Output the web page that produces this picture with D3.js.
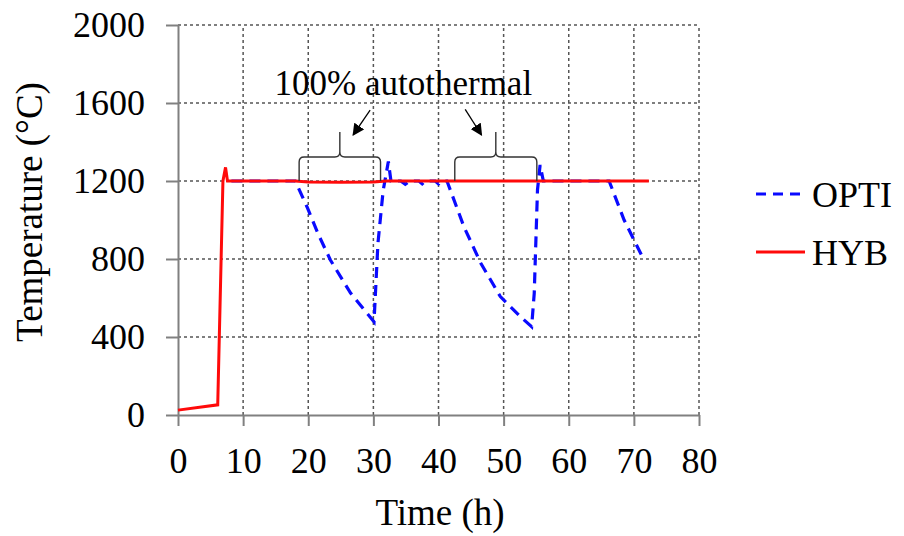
<!DOCTYPE html>
<html><head><meta charset="utf-8">
<script src="https://cdn.jsdelivr.net/npm/d3@7"></script>
<style>body{margin:0;background:#fff}svg{display:block}text{font-family:"Liberation Serif","Times New Roman",serif;fill:#000}</style>
</head><body><svg id="c" width="904" height="536"></svg>
<script>
const xTicks=[0,10,20,30,40,50,60,70,80];
const yTicks=[0,400,800,1200,1600,2000];
const hybT=[0,6.1,6.9,7.3,7.6,10,18,20,25,30,32,40,50,60,72.3];
const hybV=[25,52,1200,1270,1200,1200,1200,1195,1193,1195,1200,1200,1200,1200,1200];
const optiT=[8.2,18,19.8,21.5,23.4,26.5,30.1,30.7,31.5,32.3,32.7,34.2,34.9,35.6,37,37.5,38,39.5,40,40.5,41.3,43.9,46.5,49.5,52.6,54.3,54.7,55.2,55.6,56.1,66.2,68.5,71.5];
const optiV=[1200,1200,1068,930,795,625,478,880,1150,1300,1200,1200,1183,1200,1200,1185,1200,1200,1185,1200,1200,966,778,607,504,453,624,1154,1282,1200,1200,1000,798];
const seriesNames=["OPTI","HYB"];
const annotation="100% autothermal";
const braces=[[18.6,31.1],[42.5,55.1]];
const arrows=[[[29.5,1564],[26.9,1436]],[[44.1,1567],[46.6,1436]]];

const svg=d3.select("#c");
const x=d3.scaleLinear().domain([0,80]).range([178,699]);
const y=d3.scaleLinear().domain([0,2000]).range([415,25]);
const FS=36;

// grid
const g=svg.append("g");
g.selectAll(".vg").data(xTicks.filter(d=>d>0)).join("line")
 .attr("x1",d=>x(d)).attr("x2",d=>x(d)).attr("y1",y(0)).attr("y2",y(2000))
 .attr("stroke","#555").attr("stroke-width",1.5).attr("stroke-dasharray","3,3");
g.selectAll(".hg").data(yTicks.filter(d=>d>0)).join("line")
 .attr("x1",x(0)).attr("x2",x(80)).attr("y1",d=>y(d)).attr("y2",d=>y(d))
 .attr("stroke","#555").attr("stroke-width",1.5).attr("stroke-dasharray","3,3");

// axes
const ax=svg.append("g").attr("transform",`translate(0,${y(0)})`)
 .call(d3.axisBottom(x).tickValues(xTicks).tickFormat(d3.format("d")).tickSize(11).tickPadding(21).tickSizeOuter(0));
const ay=svg.append("g").attr("transform",`translate(${x(0)},0)`)
 .call(d3.axisLeft(y).tickValues(yTicks).tickFormat(d3.format("d")).tickSize(12).tickPadding(21).tickSizeOuter(0));
[ax,ay].forEach(a=>{
 a.attr("font-family","Liberation Serif");
 a.select(".domain").attr("stroke","#808080").attr("stroke-width",2);
 a.selectAll(".tick line").attr("stroke","#808080").attr("stroke-width",2);
 a.selectAll(".tick text").attr("font-size",FS).attr("fill","#000");
});

// titles
svg.append("text").attr("x",440).attr("y",525).attr("text-anchor","middle").attr("font-size",37).text("Time (h)");
svg.append("text").attr("transform","translate(42,212) rotate(-90)").attr("text-anchor","middle").attr("font-size",37).text("Temperature (°C)");

// lines
const lineGen=d3.line().x(d=>x(d[0])).y(d=>y(d[1]));
const optiData=optiT.map((t,i)=>[t,optiV[i]]);
const hybData=hybT.map((t,i)=>[t,hybV[i]]);
svg.append("path").datum(optiData).attr("d",lineGen).attr("fill","none")
 .attr("stroke","#0a0aff").attr("stroke-width",3.2).attr("stroke-dasharray","11,7");
svg.append("path").datum(hybData).attr("d",lineGen).attr("fill","none")
 .attr("stroke","#ff0a0a").attr("stroke-width",3);

// braces
braces.forEach(([a,b])=>{
 const x0=x(a),x1=x(b),yb=y(1200),yt=yb-24,ytip=yb-49,xm=(x0+x1)/2,r=5;
 const p=`M${x0},${yb} L${x0},${yt+r} Q${x0},${yt} ${x0+r},${yt} L${xm-r},${yt} Q${xm},${yt} ${xm},${yt-r} L${xm},${ytip} M${xm},${yt-r} Q${xm},${yt} ${xm+r},${yt} L${x1-r},${yt} Q${x1},${yt} ${x1},${yt+r} L${x1},${yb}`;
 svg.append("path").attr("d",p).attr("fill","none").attr("stroke","#333").attr("stroke-width",1.4);
});
// arrows
svg.append("defs").append("marker").attr("id","ah").attr("viewBox","0 0 10 10").attr("refX",9).attr("refY",5)
 .attr("markerWidth",12).attr("markerHeight",12).attr("markerUnits","userSpaceOnUse").attr("orient","auto")
 .append("path").attr("d","M0,0 L10,5 L0,10 z").attr("fill","#000");
arrows.forEach(([s,e])=>{
 svg.append("line").attr("x1",x(s[0])).attr("y1",y(s[1])).attr("x2",x(e[0])).attr("y2",y(e[1]))
  .attr("stroke","#000").attr("stroke-width",1.3).attr("marker-end","url(#ah)");
});
svg.append("text").attr("x",x(34.6)).attr("y",y(1641)).attr("text-anchor","middle").attr("font-size",35).text(annotation);

// legend
const leg=[{name:seriesNames[0],c:"#0a0aff",dash:"10,7",yy:194},{name:seriesNames[1],c:"#ff0a0a",dash:null,yy:252}];
leg.forEach(l=>{
 svg.append("line").attr("x1",756).attr("x2",805).attr("y1",l.yy).attr("y2",l.yy).attr("stroke",l.c).attr("stroke-width",3)
  .attr("stroke-dasharray",l.dash);
 svg.append("text").attr("x",812).attr("y",l.yy+13).attr("font-size",36).text(l.name);
});
</script></body></html>
